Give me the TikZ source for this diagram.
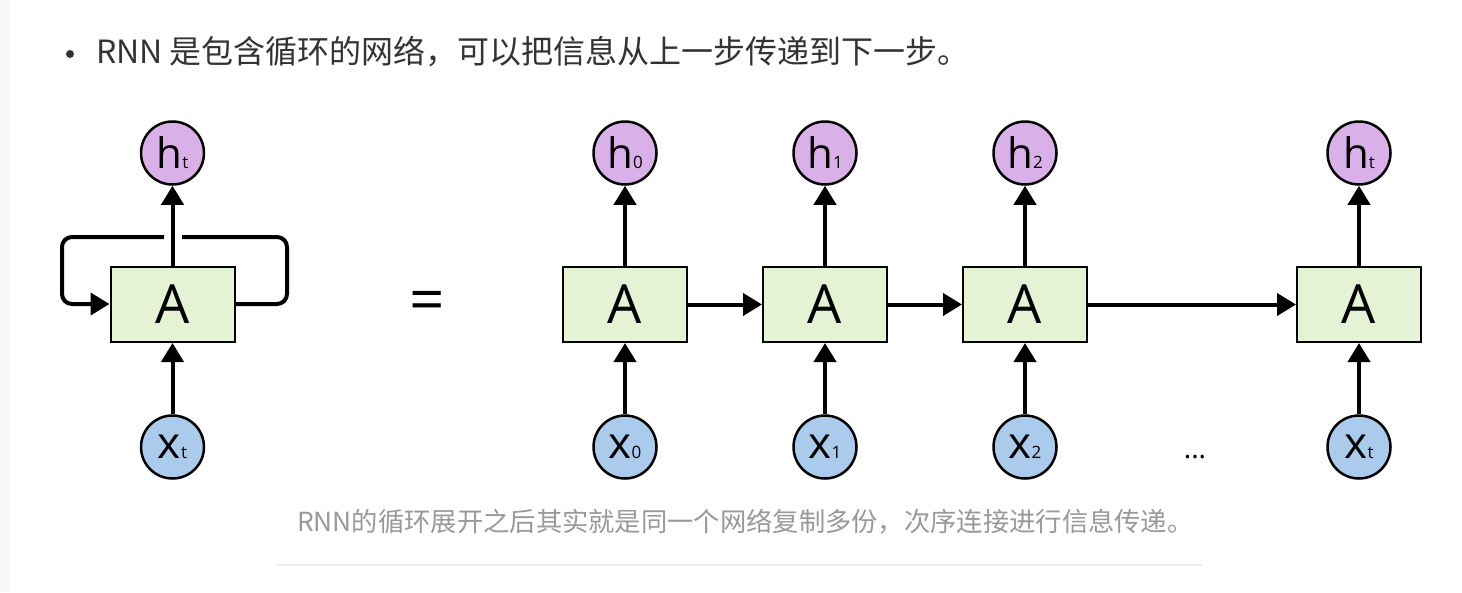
\documentclass[tikz,border=0pt]{standalone}
\usepackage{fontspec}
\newfontfamily\cjk{Noto Sans CJK SC}
\newfontfamily\dg{Open Sans}
\usetikzlibrary{arrows.meta}
\definecolor{boxfill}{HTML}{E3F3D3}
\definecolor{hfill}{HTML}{DAB0E8}
\definecolor{xfill}{HTML}{AACBEB}
\definecolor{txtdark}{HTML}{333333}
\definecolor{capgray}{HTML}{999999}
\definecolor{strip}{HTML}{F8F8F8}
\definecolor{rule}{HTML}{EEEEEE}
\tikzset{
  cell/.style={draw=black, line width=2pt, fill=boxfill, minimum width=124pt, minimum height=75pt, inner sep=0pt, font=\dg\fontsize{54}{54}\selectfont},
  hcirc/.style={circle, draw=black, line width=2.5pt, fill=hfill, minimum size=63pt, inner sep=0pt},
  xcirc/.style={circle, draw=black, line width=2.5pt, fill=xfill, minimum size=63pt, inner sep=0pt},
  flow/.style={line width=4pt, -{Triangle[length=19pt,width=22pt]}},
  loopline/.style={line width=4pt, rounded corners=10pt},
}
\newcommand{\hlab}[1]{{\dg\fontsize{42}{42}\selectfont h}{\dg\fontsize{17}{17}\selectfont #1}}
\newcommand{\xlab}[1]{{\dg\fontsize{44}{44}\selectfont x}{\dg\fontsize{17}{17}\selectfont #1}}
\begin{document}
\begin{tikzpicture}[x=1pt,y=-1pt]
\useasboundingbox (0,0) rectangle (1462,592);
\fill[white] (0,0) rectangle (1462,592);
\fill[strip] (0,0) rectangle (10,592);
% header
\fill[txtdark] (70,54) circle (4pt);
\node[anchor=west, text=txtdark, font=\cjk\fontsize{32}{32}\selectfont, inner sep=0pt] (title) at (96,52) {RNN 是包含循环的网络，可以把信息从上一步传递到下一步。};
% left rolled diagram
\node[cell] (A) at (172.5,304.5) {A};
\node[hcirc] (ht) at (172.5,153) {\hlab{t}};
\node[xcirc] (xt) at (172.5,447) {\xlab{t}};
\draw[flow] (A.north) -- (ht.south);
\draw[flow] (xt.north) -- (A.south);
\coordinate (r1) at (287,304);
\coordinate (r2) at (287,237);
\coordinate (g1) at (182,237);
\coordinate (g2) at (164,237);
\coordinate (l1) at (62,237);
\coordinate (l2) at (62,304);
\draw[loopline] (A.east |- r1) -- (r1) -- (r2) -- (g1);
\draw[loopline, -{Triangle[length=19pt,width=22pt]}] (g2) -- (l1) -- (l2) -- (A.west |- l2);
% equals
\node[font=\dg\fontsize{62}{62}\selectfont, inner sep=0pt] (eq) at (427,306) {=};
% unrolled
\foreach \i/\cx/\s in {0/625/0,1/825/1,2/1025/2,3/1359/t}{
  \node[cell] (B\i) at (\cx,304.5) {A};
  \node[hcirc] (h\i) at (\cx,153) {\hlab{\s}};
  \node[xcirc] (x\i) at (\cx,447) {\xlab{\s}};
  \draw[flow] (B\i.north) -- (h\i.south);
  \draw[flow] (x\i.north) -- (B\i.south);
}
\draw[flow] (B0.east) -- (B1.west);
\draw[flow] (B1.east) -- (B2.west);
\draw[flow] (B2.east) -- (B3.west);
\node[font=\dg\fontsize{28}{28}\selectfont, inner sep=0pt] (dots) at (1195,457) {...};
% caption
\node[anchor=west, text=capgray, font=\cjk\fontsize{26.3}{26.3}\selectfont, inner sep=0pt] (cap) at (297,522) {RNN的循环展开之后其实就是同一个网络复制多份，次序连接进行信息传递。};
\draw[rule, line width=2pt] (277,565) -- (1202,565);
\end{tikzpicture}
\end{document}
